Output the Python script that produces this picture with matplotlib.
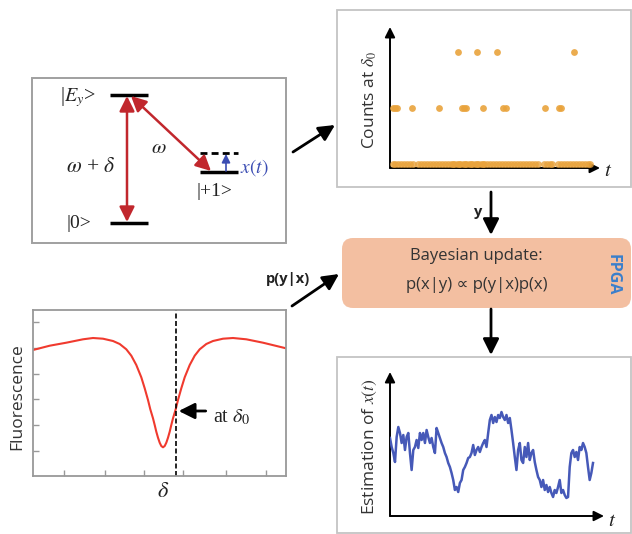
import matplotlib
matplotlib.use('Agg')
import matplotlib.pyplot as plt
from matplotlib.patches import Rectangle, FancyBboxPatch
import numpy as np

plt.rcParams['mathtext.fontset'] = 'stix'

W, H = 632, 534

# counts at delta_0 (time position)
count0_t = [3, 5, 8, 11, 14, 17, 20, 23, 28, 31, 34, 37, 40, 43, 46, 49, 52, 55, 58, 61,
            62.5, 64, 67, 68.5, 70, 73, 74.5, 76, 79, 80.5, 82, 85, 86.5, 88, 91, 92.5, 94,
            97, 100, 103, 106, 109, 112, 115, 118, 121, 124, 127, 130, 133, 136, 139, 142,
            145, 148, 154, 157, 160, 162, 168, 171, 174, 177, 180, 183, 186, 189, 192, 195,
            198, 200]
count1_t = [3, 5, 7, 22, 49, 72, 74, 76, 93, 113, 116, 155, 169, 171]
count2_t = [68, 87, 107, 184]

# fluorescence spectrum
fluo_x = [0, 16.7, 33.3, 50, 60, 70, 80, 86.7, 93.3, 98.3, 103.3, 108.3, 111.7, 115, 117.3,
          120, 121.7, 123.3, 125, 126.7, 128.3, 130, 131.7, 133.3, 135, 136.7, 138.3, 140,
          142.7, 145, 148.3, 151.7, 156.7, 161.7, 166.7, 173.3, 180, 190, 200, 213.3, 230, 253]
fluo_y = [126, 130.3, 133.3, 136.7, 138, 137.3, 135, 132, 126.7, 120.3, 111, 98.7, 87.7, 76,
          66.7, 57.7, 51, 44.3, 38.3, 33.3, 30, 28.7, 30, 33.3, 38.3, 44.3, 51, 57.7, 66.7,
          76, 87.7, 98.7, 111, 120.3, 126.7, 132, 135, 137.3, 138, 136.7, 133.3, 127.7]
delta0 = 142.7
fluo_xticks = [31, 72, 111, 150, 193, 233]
fluo_yticks = [25, 51, 77, 102, 128, 154]

# estimation of x(t)
x_est = [78, 69, 63, 54, 79, 89, 83, 73, 81, 66, 79, 83, 63, 46, 66, 69, 76, 68, 83, 76,
         83, 73, 86, 79, 73, 78, 69, 63, 88, 83, 78, 73, 69, 63, 59, 53, 49, 43, 36, 26,
         29, 24, 33, 36, 46, 49, 53, 58, 59, 63, 71, 61, 66, 69, 64, 69, 73, 76, 69, 83,
         96, 101, 93, 99, 94, 101, 98, 104, 99, 96, 101, 93, 98, 86, 73, 59, 46, 66, 73, 56,
         53, 69, 59, 73, 56, 63, 66, 54, 46, 39, 36, 29, 36, 26, 31, 24, 29, 23, 19, 26,
         23, 29, 36, 23, 26, 21, 18, 19, 49, 63, 66, 59, 64, 56, 69, 66, 73, 69, 63, 49,
         36, 43, 53]

fig = plt.figure(figsize=(W / 100, H / 100), dpi=100)
ax = fig.add_axes([0, 0, 1, 1])
ax.set_xlim(0, W); ax.set_ylim(H, 0)
ax.axis('off')


def rect(x0, y0, x1, y1):
    return [x0 / W, 1 - y1 / H, (x1 - x0) / W, (y1 - y0) / H]


def arrow(x0, y0, x1, y1, color='black', lw=2, style='-|>,head_length=0.8,head_width=0.4', ms=12):
    ax.annotate('', xy=(x1, y1), xytext=(x0, y0),
                arrowprops=dict(arrowstyle=style, lw=lw, color=color, mutation_scale=ms,
                                shrinkA=0, shrinkB=0))


box_col = '#a0a0a0'
sans = ['Open Sans', 'DejaVu Sans']
serif = 'Liberation Serif'
txt = '#333333'
dark = '#222222'

# frames
ax.add_patch(Rectangle((32, 78), 254, 165, fill=False, ec=box_col, lw=1.4))
ax.add_patch(Rectangle((337, 10), 294, 177, fill=False, ec='#c4c4c4', lw=1.3))
ax.add_patch(Rectangle((337, 357), 294, 176, fill=False, ec='#c4c4c4', lw=1.3))
ax.add_patch(FancyBboxPatch((342, 238), 289, 70, boxstyle='round,pad=0,rounding_size=11',
                            fc='#f3bfa1', ec='none'))

# energy level diagram
for (xa, xb, yy) in [(110, 148, 95), (110, 148, 223), (200, 238, 172)]:
    ax.plot([xa, xb], [yy, yy], color='black', lw=2.5, solid_capstyle='butt')
ax.plot([200, 238], [153, 153], color='black', lw=2, ls=(0, (2.5, 1.5)))
red = '#c1272d'
arrow(127, 96, 127, 222, color=red, lw=1.8, style='<|-|>,head_length=0.7,head_width=0.35', ms=13)
arrow(131, 96, 211, 171, color=red, lw=1.8, style='<|-|>,head_length=0.7,head_width=0.35', ms=13)
arrow(226, 171, 226, 154, color='#3b4db3', lw=1.2, style='-|>,head_length=0.5,head_width=0.25', ms=10)
ax.text(60, 97, r'|$E_y$>', family=serif, fontsize=14.5, color=dark, va='center', ha='left')
ax.text(66, 167, r'$\omega$ + $\delta$', family=serif, fontsize=15.5, color=dark, va='center')
ax.text(151, 147, r'$\omega$', fontsize=15, color=dark, va='center')
ax.text(240, 168, r'$x(t)$', fontsize=14, color='#3b4db3', va='center')
ax.text(197, 192, '|+1>', family=serif, fontsize=14, color=dark, va='center')
ax.text(67, 224, '|0>', family=serif, fontsize=14, color=dark, va='center')

# flow arrows
arrow(293, 152, 335, 125)
arrow(491, 192, 491, 235)
arrow(292, 306, 339, 274)
arrow(491, 309, 491, 355)
ax.text(478, 212, 'y', family=sans, fontsize=10.5, fontweight='bold', color=dark,
        ha='center', va='center')
ax.text(288, 279, 'p(y|x)', family=sans, fontsize=10.5, fontweight='bold', color=dark,
        ha='center', va='center')
ax.text(476, 256, 'Bayesian update:', family=sans, fontsize=12, color=txt,
        ha='center', va='center')
ax.text(477, 285, 'p(x|y) \u221d p(y|x)p(x)', family=sans, fontsize=12, color=txt,
        ha='center', va='center')
ax.text(613, 275, 'FPGA', family=sans, fontsize=11.5, fontweight='bold', color='#3a7fcc',
        rotation=-90, ha='center', va='center')

# counts panel
arrow(390, 168, 600, 168, lw=1.4, style='-|>,head_length=0.6,head_width=0.3', ms=10)
arrow(390, 168, 390, 27, lw=1.4, style='-|>,head_length=0.6,head_width=0.3', ms=10)
ax.text(608, 170, r'$t$', fontsize=15, color=dark, ha='center', va='center')
ax.text(370, 100, r'Counts at $\delta_0$', family=sans, fontsize=12.5, color=txt,
        rotation=90, ha='center', va='center')
axc = fig.add_axes(rect(390, 28, 598, 168))
axc.set_xlim(0, 208); axc.set_ylim(-0.07, 2.43)
axc.axis('off')
orange = '#e9a33c'
axc.scatter(count0_t, [0] * len(count0_t), s=24, color=orange, alpha=0.8, lw=0)
axc.scatter(count1_t, [1] * len(count1_t), s=24, color=orange, alpha=0.9, lw=0)
axc.scatter(count2_t, [2] * len(count2_t), s=24, color=orange, alpha=0.9, lw=0)

# estimation panel
arrow(390, 516, 604, 516, lw=1.4, style='-|>,head_length=0.6,head_width=0.3', ms=10)
arrow(390, 516, 390, 372, lw=1.4, style='-|>,head_length=0.6,head_width=0.3', ms=10)
ax.text(612, 520, r'$t$', fontsize=15, color=dark, ha='center', va='center')
ax.text(370, 447, r'Estimation of $x(t)$', family=sans, fontsize=12.5, color=txt,
        rotation=90, ha='center', va='center')
axe = fig.add_axes(rect(390, 373, 602, 516))
axe.set_xlim(0, 212); axe.set_ylim(0, 143)
axe.axis('off')
t = np.arange(len(x_est)) * 203 / (len(x_est) - 1)
axe.plot(t, x_est, color='#4659b8', lw=1.8)

# fluorescence panel
axf = fig.add_axes(rect(33, 310, 286, 476))
axf.set_facecolor('none')
axf.set_xlim(0, 253); axf.set_ylim(0, 166)
axf.plot(fluo_x, fluo_y, color='#f03a2e', lw=1.5)
axf.axvline(delta0, color='black', lw=1.2, ls=(0, (3, 1.5)))
axf.set_xticks(fluo_xticks); axf.set_yticks(fluo_yticks)
axf.set_xticklabels([]); axf.set_yticklabels([])
axf.tick_params(direction='in', length=4, color='#999999', width=1)
for s in axf.spines.values():
    s.set_color('#999999'); s.set_linewidth(1.3)
axf.annotate('', xy=(delta0 + 3, 65), xytext=(delta0 + 30, 65),
             arrowprops=dict(arrowstyle='-|>,head_length=0.8,head_width=0.4', lw=2,
                             color='black', mutation_scale=12, shrinkA=0, shrinkB=0))
ax.text(213, 417, r'at $\delta_0$', family=serif, fontsize=14.5, color=dark, va='center')
ax.text(163, 491, r'$\delta$', fontsize=16, color=dark, ha='center', va='center')
ax.text(17, 397, 'Fluorescence', family=sans, fontsize=12.5, color=txt,
        rotation=90, ha='center', va='center')

fig.savefig('out.png', dpi=100)
